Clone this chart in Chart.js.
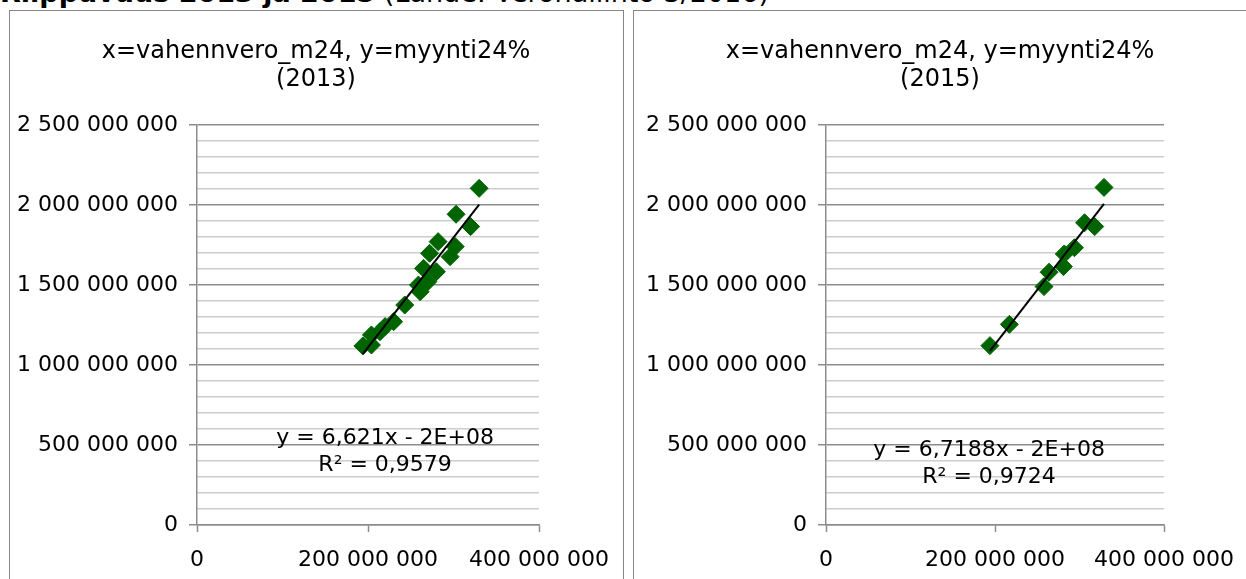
<!DOCTYPE html>
<html lang="fi">
<head>
<meta charset="utf-8">
<title>Riippuvuus 2013 ja 2015</title>
<script src="https://cdn.jsdelivr.net/npm/chart.js@4.4.1/dist/chart.umd.min.js"></script>
<style>
    html, body { margin: 0; padding: 0; background: #fff; overflow: hidden; }
    body { width: 1246px; height: 579px; position: relative; font-family: 'DejaVu Sans', Verdana, sans-serif; }
    #otsikko { position: absolute; left: 0; top: -21px; font-size: 27px; line-height: 27px; white-space: nowrap; color: #000; }
    .paneeli { position: absolute; top: 10px; width: 613px; height: 620px; border: 1px solid #868686; background: #fff; }
    #p2013 { left: 9px; }
    #p2015 { left: 633px; }
    .paneeli canvas { position: absolute; left: 0; top: 0; }
</style>
</head>
<body>
<div id="otsikko"><b>Riippuvuus 2013 ja 2015</b> (Lähde: Verohallinto 3/2016)</div>
<div class="paneeli" id="p2013"><canvas id="chart2013" width="612" height="568"></canvas></div>
<div class="paneeli" id="p2015"><canvas id="chart2015" width="612" height="568"></canvas></div>

<script>
// Aineisto: x = vahennvero_m24, y = myynti24% (luettu kuvasta)
const x2013 = [330e6, 303e6, 320e6, 282e6, 302e6, 296e6, 272e6, 265e6, 280e6, 259e6,
               270e6, 261e6, 243e6, 230e6, 220e6, 214e6, 204e6, 204e6, 194e6];
const y2013 = [2104e6, 1942e6, 1865e6, 1771e6, 1740e6, 1677e6, 1698e6, 1604e6, 1583e6, 1500e6,
               1521e6, 1458e6, 1375e6, 1271e6, 1240e6, 1208e6, 1188e6, 1125e6, 1119e6];

const x2015 = [329e6, 306e6, 318e6, 294e6, 282e6, 281e6, 264e6, 258e6, 217e6, 194e6];
const y2015 = [2110e6, 1889e6, 1865e6, 1733e6, 1694e6, 1615e6, 1580e6, 1490e6, 1254e6, 1121e6];

// Trendiviivan yhtälöt (Excelin näyttämät tekstit)
const eq2013 = ['y = 6,621x - 2E+08', 'R² = 0,9579'];
const eq2015 = ['y = 6,7188x - 2E+08', 'R² = 0,9724'];

// Akselit
const xTicks = [0, 200e6, 400e6];
const yMax = 2500e6;
const yMajor = 500e6;
const yMinor = 100e6;

const fontFamily = "'DejaVu Sans', Verdana, sans-serif";
const markerColor = '#006400';
const axisColor = '#8c8c8c';
const minorGridColor = '#cdcdcd';

Chart.defaults.font.family = fontFamily;
Chart.defaults.color = '#000';

// Lukujen muotoilu: 2 500 000 000
function muotoile(v) {
    return String(Math.round(v)).replace(/\B(?=(\d{3})+(?!\d))/g, ' ');
}

// Pienimmän neliösumman suora
function suora(xs, ys) {
    const n = xs.length;
    const mx = xs.reduce((a, b) => a + b, 0) / n;
    const my = ys.reduce((a, b) => a + b, 0) / n;
    let sxy = 0, sxx = 0;
    for (let i = 0; i < n; i++) {
        sxy += (xs[i] - mx) * (ys[i] - my);
        sxx += (xs[i] - mx) * (xs[i] - mx);
    }
    const k = sxy / sxx;
    const b = my - k * mx;
    const x0 = Math.min(...xs), x1 = Math.max(...xs);
    return [{ x: x0, y: k * x0 + b }, { x: x1, y: k * x1 + b }];
}

function onPaaviiva(v) {
    return Math.round(v / yMinor) % Math.round(yMajor / yMinor) === 0;
}

// Yhtälön teksti kaavion sisään
const yhtaloPlugin = {
    id: 'yhtalo',
    afterDatasetsDraw(chart, args, opts) {
        if (!opts || !opts.rivit) return;
        const ctx = chart.ctx;
        const px = chart.scales.x.getPixelForValue(opts.x);
        const py = chart.scales.y.getPixelForValue(opts.y);
        ctx.save();
        ctx.font = '22px ' + fontFamily;
        ctx.fillStyle = '#000';
        ctx.textAlign = 'center';
        ctx.textBaseline = 'middle';
        opts.rivit.forEach((rivi, i) => ctx.fillText(rivi, px, py + i * 27));
        ctx.restore();
    }
};

function teeKaavio(canvasId, vuosi, xs, ys, yhtalo, yAxisWidth, oikeaTyhja, labelPos) {
    const canvas = document.getElementById(canvasId);
    const ctx = canvas.getContext('2d');
    const pisteet = xs.map((x, i) => ({ x: x, y: ys[i] }));

    return new Chart(ctx, {
        type: 'scatter',
        data: {
            datasets: [
                {
                    type: 'line',
                    data: suora(xs, ys),
                    borderColor: '#000',
                    borderWidth: 2,
                    pointRadius: 0,
                    fill: false,
                    order: 0
                },
                {
                    data: pisteet,
                    pointStyle: 'rectRot',
                    pointRadius: 9,
                    pointHoverRadius: 9,
                    backgroundColor: markerColor,
                    borderColor: markerColor,
                    borderWidth: 1,
                    order: 1
                }
            ]
        },
        options: {
            responsive: false,
            animation: false,
            events: [],
            layout: { padding: 0 },
            plugins: {
                legend: { display: false },
                tooltip: { enabled: false },
                title: {
                    display: true,
                    text: ['x=vahennvero_m24, y=myynti24%', '(' + vuosi + ')'],
                    font: { size: 24, weight: 'normal', lineHeight: 28 / 24 },
                    color: '#000',
                    padding: { top: 27, bottom: 31 }
                },
                yhtalo: { rivit: yhtalo, x: labelPos.x, y: labelPos.y }
            },
            scales: {
                x: {
                    type: 'linear',
                    min: 0,
                    max: 400e6,
                    afterBuildTicks: (s) => { s.ticks = xTicks.map(v => ({ value: v })); },
                    ticks: {
                        font: { size: 22 },
                        padding: 15,
                        maxRotation: 0,
                        callback: (v) => muotoile(v)
                    },
                    grid: {
                        drawOnChartArea: false,
                        drawTicks: true,
                        tickLength: 7,
                        tickWidth: 1.5,
                        tickColor: axisColor
                    },
                    border: { color: axisColor, width: 1.5 },
                    afterFit: (s) => {
                        s.height = 54;
                        s.paddingRight = 0;
                        s.paddingLeft = 0;
                    }
                },
                y: {
                    type: 'linear',
                    min: 0,
                    max: yMax,
                    ticks: {
                        stepSize: yMinor,
                        autoSkip: false,
                        font: { size: 22 },
                        padding: 11,
                        callback: (v) => onPaaviiva(v) ? muotoile(v) : ''
                    },
                    grid: {
                        color: (c) => (c.tick && onPaaviiva(c.tick.value)) ? axisColor : minorGridColor,
                        tickColor: (c) => (c.tick && onPaaviiva(c.tick.value)) ? axisColor : 'rgba(0,0,0,0)',
                        lineWidth: 1.5,
                        tickWidth: 1.5,
                        tickLength: 8
                    },
                    border: { color: axisColor, width: 1.5 },
                    afterFit: (s) => { s.width = yAxisWidth; }
                },
                tyhja: {
                    type: 'linear',
                    position: 'right',
                    display: true,
                    ticks: { display: false },
                    grid: { display: false, drawTicks: false },
                    border: { display: false },
                    afterFit: (s) => { s.width = oikeaTyhja; }
                }
            }
        },
        plugins: [yhtaloPlugin]
    });
}

window.kaavio2013 = teeKaavio('chart2013', 2013, x2013, y2013, eq2013, 187, 83, { x: 220e6, y: 542e6 });
window.kaavio2015 = teeKaavio('chart2015', 2015, x2015, y2015, eq2015, 192, 82, { x: 193e6, y: 467e6 });
</script>
</body>
</html>
